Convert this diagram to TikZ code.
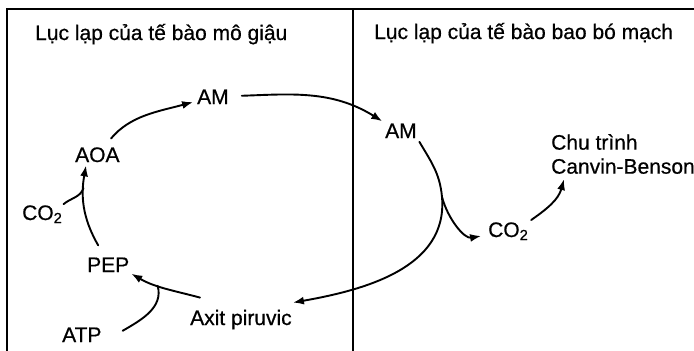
\documentclass[tikz,border=0pt]{standalone}
\usepackage{fontspec}
\setmainfont[FakeBold=0.6,BoldFont=Liberation Sans]{Liberation Sans}
\usepackage{tikz}
\usetikzlibrary{arrows.meta,calc}
\tikzset{
  lbl/.style={inner sep=1pt, anchor=base west, font=\fontsize{21}{24}\bfseries},
  link/.style={line width=1.9pt, line cap=round},
  arr/.style={link, -{Latex[length=11pt,width=8pt]}},
  frame/.style={line width=1.9pt}
}

\begin{document}
\begin{tikzpicture}[x=1pt,y=1pt]
    \useasboundingbox (0,0) rectangle (694,-351);
    \draw[frame] (7,-351) -- (7,-9) -- (694,-9);
    \draw[frame] (353,-9) -- (353,-351);
    \node[lbl] (title1) at (34,-40) {Lục lạp của tế bào mô giậu};
    \node[lbl] (title2) at (373,-39) {Lục lạp của tế bào bao bó mạch};
    \node[lbl] (am1) at (196,-104) {AM};
    \node[lbl] (aoa) at (74,-162) {AOA};
    \node[lbl] (co2a) at (21,-220) {CO\textsubscript{2}};
    \node[lbl] (pep) at (86,-272) {PEP};
    \node[lbl] (atp) at (61,-342) {ATP};
    \node[lbl] (axit) at (189,-325) {Axit piruvic};
    \node[lbl] (am2) at (384,-138) {AM};
    \node[lbl] (co2b) at (487,-237) {CO\textsubscript{2}};
    \node[lbl, anchor=north west, align=left] (chu) at (550,-133) {Chu trình\\Canvin-Benson};
    \coordinate (split) at (442,-197);
    \draw[arr, shorten <=10pt, shorten >=3pt] (aoa.50) to[out=50, in=195] (am1);
    \draw[arr, shorten <=12pt, shorten >=2pt] (am1) to[out=2, in=148] (am2.north west);
    \draw[arr, shorten <=3pt] (am2.south east) to[out=-60, in=95] (split) to[out=-85, in=10] ([yshift=6pt]axit.north east);
    \draw[arr, shorten >=6pt] (split) to[out=-75, in=190] (co2b);
    \draw[arr, shorten <=2pt] (co2b.north east) to[out=35, in=-105] ([shift={(14pt,-4pt)}]chu.south west);
    \draw[arr, shorten >=1pt] ([shift={(11pt,11pt)}]axit.north west) to[out=165, in=-30] coordinate[pos=0.6] (atpjoin) (pep.south east);
    \draw[link] ([shift={(20pt,4pt)}]atp.east) to[out=30, in=-75] (atpjoin);
    \draw[arr, shorten >=2pt] ([shift={(-10pt,11pt)}]pep.north) to[out=120, in=-100] coordinate[pos=0.72] (co2join) ([xshift=-11pt]aoa.south);
    \draw[link] (co2a.north east) to[out=40, in=-110] (co2join);
\end{tikzpicture}
\end{document}
